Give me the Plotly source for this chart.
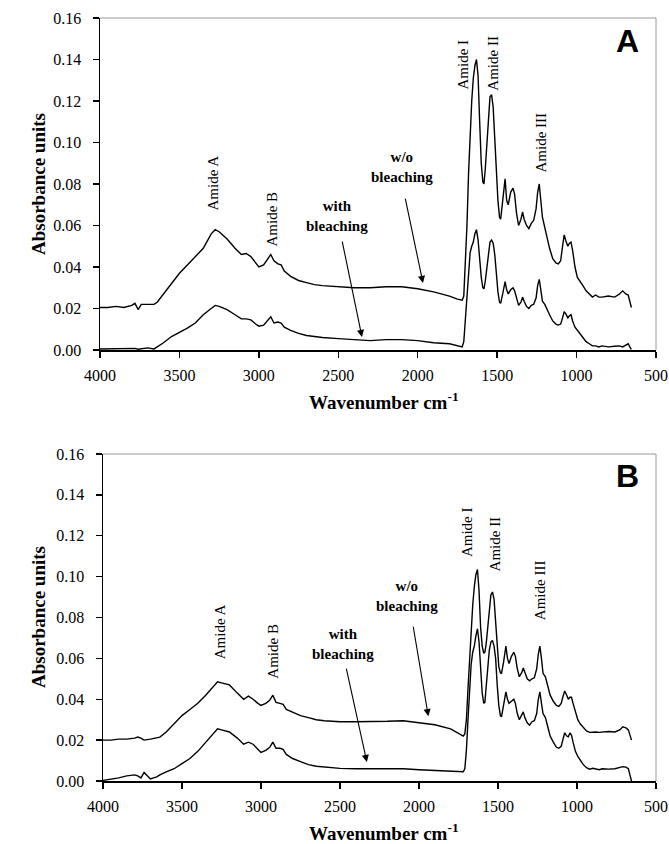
import plotly.graph_objects as go

W, H = 669, 844

wavenumber = [4000, 3950, 3900, 3850, 3800, 3780, 3760, 3740, 3700, 3660, 3640, 3600, 3550, 3500,
              3450, 3400, 3350, 3300, 3275, 3250, 3200, 3150, 3110, 3080, 3050, 3020, 3000, 2970,
              2945, 2925, 2905, 2880, 2860, 2840, 2800, 2750, 2700, 2650, 2600, 2500, 2400, 2300,
              2200, 2100, 2000, 1900, 1800, 1750, 1720, 1710, 1700, 1690, 1680, 1670, 1660, 1650,
              1640, 1630, 1620, 1610, 1600, 1590, 1583, 1575, 1565, 1555, 1545, 1535, 1525, 1515,
              1505, 1495, 1485, 1478, 1465, 1450, 1440, 1430, 1415, 1400, 1390, 1378, 1365, 1350,
              1340, 1330, 1315, 1300, 1285, 1270, 1255, 1245, 1235, 1225, 1215, 1200, 1185, 1170,
              1150, 1130, 1115, 1100, 1090, 1078, 1065, 1055, 1045, 1035, 1025, 1010, 995, 980,
              960, 940, 920, 900, 880, 860, 840, 800, 760, 730, 710, 690, 675, 665, 655]

a_without = [0.0205, 0.0205, 0.021, 0.0205, 0.0215, 0.0225, 0.0195, 0.022, 0.022, 0.022, 0.023, 0.027,
             0.032, 0.037, 0.041, 0.045, 0.049, 0.056, 0.058, 0.057, 0.0535, 0.049, 0.046, 0.0465,
             0.045, 0.042, 0.040, 0.041, 0.044, 0.046, 0.043, 0.0415, 0.041, 0.038, 0.0355, 0.0335,
             0.0325, 0.0315, 0.031, 0.0305, 0.030, 0.030, 0.0305, 0.0305, 0.0295, 0.028, 0.026,
             0.0245, 0.024, 0.026, 0.040, 0.060, 0.085, 0.105, 0.120, 0.131, 0.137, 0.140, 0.132,
             0.110, 0.090, 0.081, 0.080, 0.087, 0.100, 0.114, 0.122, 0.123, 0.117, 0.102, 0.085,
             0.072, 0.064, 0.063, 0.072, 0.0825, 0.072, 0.070, 0.076, 0.078, 0.075, 0.066, 0.060,
             0.063, 0.0665, 0.063, 0.060, 0.0585, 0.061, 0.0625, 0.068, 0.076, 0.080, 0.073, 0.064,
             0.059, 0.054, 0.049, 0.044, 0.042, 0.0415, 0.043, 0.049, 0.0555, 0.052, 0.050, 0.0515,
             0.052, 0.048, 0.040, 0.035, 0.033, 0.031, 0.0285, 0.027, 0.0255, 0.0265, 0.0255,
             0.0255, 0.026, 0.0255, 0.027, 0.0285, 0.027, 0.0265, 0.024, 0.0205]

a_with = [0.0005, 0.0005, 0.0005, 0.0006, 0.0005, 0.0008, 0.0004, 0.0007, 0.001, 0.0005, 0.0015, 0.0035,
          0.0065, 0.0085, 0.0105, 0.013, 0.017, 0.020, 0.0215, 0.021, 0.0195, 0.017, 0.015, 0.015,
          0.0145, 0.0125, 0.0115, 0.012, 0.014, 0.016, 0.013, 0.0135, 0.013, 0.011, 0.0095, 0.008,
          0.007, 0.0065, 0.006, 0.0055, 0.005, 0.0045, 0.005, 0.005, 0.0045, 0.0035, 0.003, 0.002,
          0.0015, 0.004, 0.015, 0.028, 0.040, 0.047, 0.050, 0.052, 0.056, 0.058, 0.053, 0.043,
          0.035, 0.030, 0.0295, 0.033, 0.040, 0.048, 0.052, 0.053, 0.0515, 0.046, 0.036, 0.028,
          0.023, 0.0225, 0.027, 0.033, 0.029, 0.027, 0.029, 0.030, 0.0285, 0.025, 0.0215, 0.023,
          0.0255, 0.0235, 0.021, 0.020, 0.0215, 0.022, 0.025, 0.031, 0.034, 0.029, 0.0235, 0.022,
          0.019, 0.017, 0.014, 0.0125, 0.012, 0.0125, 0.015, 0.0185, 0.017, 0.0155, 0.0165, 0.017,
          0.014, 0.011, 0.0095, 0.008, 0.006, 0.004, 0.003, 0.002, 0.002, 0.0015, 0.002, 0.0015,
          0.0018, 0.002, 0.0015, 0.0025, 0.003, 0.0015, 0.0003]

b_without = [0.020, 0.020, 0.0205, 0.0205, 0.021, 0.0215, 0.021, 0.020, 0.0205, 0.021, 0.0215, 0.024,
             0.028, 0.032, 0.035, 0.038, 0.042, 0.046, 0.0485, 0.048, 0.047, 0.043, 0.040, 0.0415,
             0.040, 0.038, 0.037, 0.038, 0.0395, 0.042, 0.0385, 0.038, 0.0375, 0.035, 0.0335, 0.032,
             0.031, 0.030, 0.0295, 0.029, 0.029, 0.029, 0.0292, 0.0295, 0.0285, 0.0275, 0.0255,
             0.0235, 0.022, 0.023, 0.030, 0.045, 0.060, 0.074, 0.086, 0.095, 0.101, 0.1035, 0.093,
             0.075, 0.066, 0.0625, 0.063, 0.067, 0.075, 0.085, 0.091, 0.0925, 0.089, 0.078, 0.064,
             0.056, 0.053, 0.0525, 0.058, 0.066, 0.060, 0.0575, 0.061, 0.063, 0.061, 0.055, 0.051,
             0.053, 0.0553, 0.053, 0.050, 0.049, 0.050, 0.0505, 0.055, 0.062, 0.066, 0.060, 0.0527,
             0.051, 0.046, 0.042, 0.039, 0.037, 0.0365, 0.038, 0.041, 0.044, 0.042, 0.040, 0.041,
             0.041, 0.038, 0.034, 0.030, 0.028, 0.026, 0.0245, 0.0238, 0.024, 0.024, 0.0238, 0.024,
             0.0242, 0.024, 0.025, 0.0265, 0.026, 0.025, 0.023, 0.020]

b_with = [0.0003, 0.0008, 0.0015, 0.0025, 0.003, 0.0025, 0.0015, 0.0042, 0.001, 0.002, 0.003, 0.0045,
          0.006, 0.0085, 0.011, 0.0145, 0.019, 0.0235, 0.0255, 0.025, 0.024, 0.021, 0.018, 0.019,
          0.018, 0.0155, 0.014, 0.015, 0.0165, 0.019, 0.016, 0.016, 0.0155, 0.013, 0.011, 0.0095,
          0.008, 0.0072, 0.0068, 0.0062, 0.006, 0.006, 0.006, 0.006, 0.0055, 0.0052, 0.0048, 0.0045,
          0.0045, 0.006, 0.015, 0.030, 0.045, 0.057, 0.063, 0.066, 0.071, 0.0745, 0.068, 0.055,
          0.043, 0.038, 0.0385, 0.046, 0.056, 0.064, 0.068, 0.0688, 0.066, 0.060, 0.047, 0.037,
          0.032, 0.0314, 0.037, 0.0436, 0.040, 0.038, 0.039, 0.040, 0.038, 0.033, 0.030, 0.032,
          0.0338, 0.031, 0.0285, 0.0273, 0.029, 0.0295, 0.033, 0.040, 0.0436, 0.038, 0.033, 0.031,
          0.026, 0.022, 0.019, 0.0165, 0.016, 0.017, 0.020, 0.0236, 0.022, 0.0216, 0.0235, 0.0225,
          0.019, 0.0145, 0.012, 0.010, 0.008, 0.0065, 0.0058, 0.0062, 0.006, 0.0055, 0.006, 0.0058,
          0.006, 0.0065, 0.007, 0.0068, 0.006, 0.003, 0.0]

x_ticks = [4000, 3500, 3000, 2500, 2000, 1500, 1000, 500]
y_ticks = [0.00, 0.02, 0.04, 0.06, 0.08, 0.10, 0.12, 0.14, 0.16]

# annotation texts and anchor positions (data units)
peak_labels_a = [("Amide A", 3289, 0.0807), ("Amide B", 2917, 0.0629), ("Amide I", 1715, 0.1376),
                 ("Amide II", 1526, 0.138), ("Amide III", 1230, 0.100)]
peak_labels_b = [("Amide A", 3263, 0.073), ("Amide B", 2925, 0.0637), ("Amide I", 1700, 0.122),
                 ("Amide II", 1522, 0.116), ("Amide III", 1235, 0.0933)]

SERIF = "Liberation Serif, Times New Roman, serif"
SANS = "Liberation Sans, Arial, sans-serif"


def px(x):
    return x / W


def py(y):
    return 1 - y / H


fig = go.Figure()
line = dict(color="black", width=1.4)
fig.add_trace(go.Scatter(x=wavenumber, y=a_without, mode="lines", line=line, xaxis="x", yaxis="y",
                         showlegend=False, hoverinfo="skip"))
fig.add_trace(go.Scatter(x=wavenumber, y=a_with, mode="lines", line=line, xaxis="x", yaxis="y",
                         showlegend=False, hoverinfo="skip"))
fig.add_trace(go.Scatter(x=wavenumber, y=b_without, mode="lines", line=line, xaxis="x2", yaxis="y2",
                         showlegend=False, hoverinfo="skip"))
fig.add_trace(go.Scatter(x=wavenumber, y=b_with, mode="lines", line=line, xaxis="x2", yaxis="y2",
                         showlegend=False, hoverinfo="skip"))

tickfont = dict(family=SERIF, size=16, color="black")


def xaxis_cfg(domain, anchor):
    return dict(domain=domain, anchor=anchor, range=[4000, 500], tickvals=x_ticks,
                ticks="outside", ticklen=6, tickwidth=1.3, tickcolor="black",
                ticklabelstandoff=4,
                showline=True, linecolor="black", linewidth=1.5, showgrid=False,
                zeroline=False, tickfont=tickfont, fixedrange=True, automargin=False)


def yaxis_cfg(domain, anchor):
    return dict(domain=domain, anchor=anchor, range=[0, 0.16], tickvals=y_ticks,
                tickformat=".2f", ticks="outside", ticklen=6, tickwidth=1.3, tickcolor="black",
                ticklabelstandoff=8,
                showline=True, linecolor="black", linewidth=1.5, showgrid=False,
                zeroline=False, tickfont=tickfont, fixedrange=True, automargin=False)


fig.update_layout(
    width=W, height=H, margin=dict(l=0, r=0, t=0, b=0, autoexpand=False),
    paper_bgcolor="white", plot_bgcolor="white",
    xaxis=xaxis_cfg([px(100), px(656)], "y"),
    yaxis=yaxis_cfg([py(350), py(18)], "x"),
    xaxis2=xaxis_cfg([px(103), px(656)], "y2"),
    yaxis2=yaxis_cfg([py(781), py(454)], "x2"),
)

shapes = []
for xr, yr in (("x domain", "y domain"), ("x2 domain", "y2 domain")):
    shapes.append(dict(type="line", xref=xr, yref=yr, x0=0, x1=1, y0=1, y1=1,
                       line=dict(color="#9a9a9a", width=1)))
    shapes.append(dict(type="line", xref=xr, yref=yr, x0=1, x1=1, y0=0, y1=1,
                       line=dict(color="#9a9a9a", width=1)))
fig.update_layout(shapes=shapes)

ann = []
lab_font = dict(family=SERIF, size=15, color="black")
bold_font = dict(family=SERIF, size=15, color="black", weight="bold")
for labels, xr, yr in ((peak_labels_a, "x", "y"), (peak_labels_b, "x2", "y2")):
    for text, xv, yv in labels:
        ann.append(dict(text=text, x=xv, y=yv, xref=xr, yref=yr, textangle=-90,
                        showarrow=False, font=lab_font, xanchor="center", yanchor="middle"))

# "with bleaching" / "w/o bleaching" labels with arrows
callouts = [
    ("x", "y", "with<br>bleaching", 2508, 0.0644, 2477, 0.053, 2351, 0.0063),
    ("x", "y", "w/o<br>bleaching", 2099, 0.0880, 2080, 0.0737, 1967, 0.0323),
    ("x2", "y2", "with<br>bleaching", 2480, 0.0672, 2462, 0.0557, 2330, 0.0093),
    ("x2", "y2", "w/o<br>bleaching", 2076, 0.0906, 2038, 0.0762, 1941, 0.0317),
]
for xr, yr, text, tx, ty, x0, y0, x1, y1 in callouts:
    ann.append(dict(text=text, x=tx, y=ty, xref=xr, yref=yr, showarrow=False,
                    font=bold_font, xanchor="center", yanchor="middle"))
    ann.append(dict(text="", x=x1, y=y1, ax=x0, ay=y0, xref=xr, yref=yr, axref=xr, ayref=yr,
                    showarrow=True, arrowhead=2, arrowsize=1.3, arrowwidth=1.1,
                    arrowcolor="black"))

title_font = dict(family=SERIF, size=19, color="black", weight="bold")
for ycen_title, ycen_panel, letter, ly in ((401, 184, "A", 41), (832, 617, "B", 476)):
    ann.append(dict(text="Wavenumber cm<sup>-1</sup>", x=px(384), y=py(ycen_title), xref="paper",
                    yref="paper", showarrow=False, font=title_font, xanchor="center",
                    yanchor="middle"))
    ann.append(dict(text="Absorbance units", x=px(38), y=py(ycen_panel), xref="paper",
                    yref="paper", showarrow=False, font=title_font, textangle=-90,
                    xanchor="center", yanchor="middle"))
    ann.append(dict(text=letter, x=px(627), y=py(ly), xref="paper", yref="paper",
                    showarrow=False, xanchor="center", yanchor="middle",
                    font=dict(family=SANS, size=32, color="black", weight="bold")))

fig.update_layout(annotations=ann)
fig.write_html(
    "out.html",
    config={"displayModeBar": False, "staticPlot": True},
    post_script="document.body.style.margin='0';document.body.style.overflow='hidden';",
)
